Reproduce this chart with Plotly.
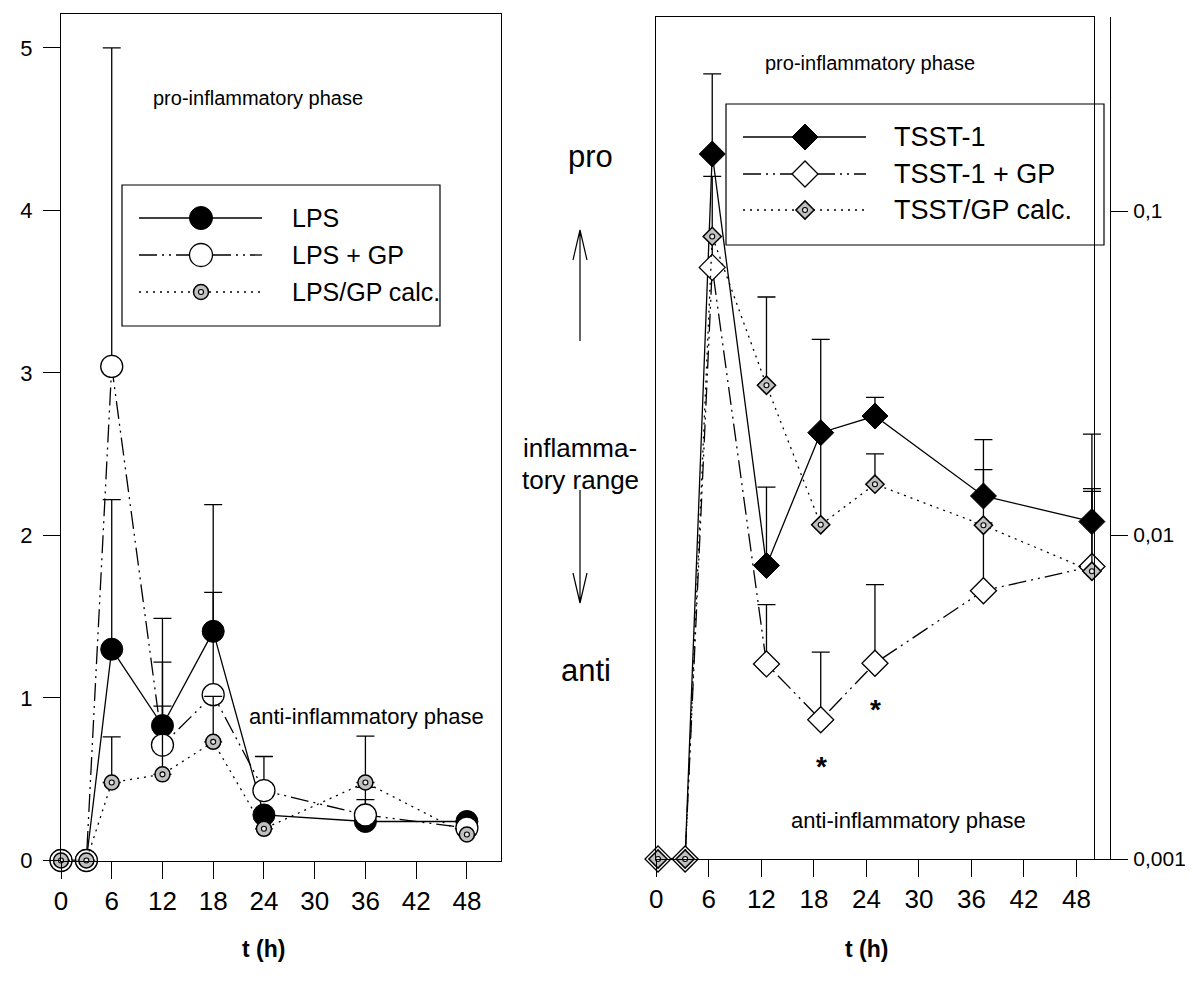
import plotly.graph_objects as go

W, H = 1193, 983
FONT = "Liberation Sans, Arial, sans-serif"

# ---------------- data ----------------
T_HOURS = [0, 3, 6, 12, 18, 24, 36, 48]
X_TICKS = [0, 6, 12, 18, 24, 30, 36, 42, 48]

# left panel (linear)
LPS = [0, 0, 1.30, 0.83, 1.41, 0.28, 0.24, 0.24]
LPS_ERR = [0, 0, 0.92, 0.66, 0.78, 0, 0.135, 0]
LPS_GP = [0, 0, 3.04, 0.71, 1.02, 0.43, 0.28, 0.20]
LPS_GP_ERR = [0, 0, 1.96, 0.51, 0.63, 0.21, 0.17, 0]
LPS_CALC = [0, 0, 0.48, 0.53, 0.73, 0.195, 0.48, 0.16]
LPS_CALC_ERR = [0, 0, 0.28, 0.42, 0.28, 0, 0.285, 0]
LEFT_Y_TICKS = [0, 1, 2, 3, 4, 5]

# right panel (log)
TSST = [0.001, 0.001, 0.150, 0.00805, 0.0207, 0.0233, 0.0132, 0.0110]
TSST_ERR = [0, 0, 0.115, 0.0060, 0.0195, 0.0033, 0.0065, 0.0095]
TSST_GP = [0.001, 0.001, 0.067, 0.0040, 0.00269, 0.00402, 0.00673, 0.0080]
TSST_GP_ERR = [0, 0, 0.061, 0.0021, 0.00166, 0.00301, 0.00417, 0.0059]
TSST_CALC = [0.001, 0.001, 0.0835, 0.0290, 0.01076, 0.01435, 0.01072, 0.00773]
TSST_CALC_ERR = [0, 0, 0, 0.0253, 0.0098, 0.00345, 0.0052, 0.0059]
RIGHT_Y_TICKS = [0.001, 0.01, 0.1]
RIGHT_Y_TEXT = ["0,001", "0,01", "0,1"]

LEFT_NAMES = ["LPS", "LPS + GP", "LPS/GP calc."]
RIGHT_NAMES = ["TSST-1", "TSST-1 + GP", "TSST/GP calc."]

# ---------------- styles ----------------
DASHDOTDOT = "18px,5px,2px,5px,2px,5px"
DOTTED = "2px,5px"
GRAY = "#c0c0c0"
LW = 1.3
ZEROS = [0] * len(T_HOURS)


def errbar(arr):
    return dict(type="data", symmetric=False, array=arr, arrayminus=ZEROS,
                color="black", thickness=LW, width=9)


fig = go.Figure()

# ---- left panel
fig.add_trace(go.Scatter(x=T_HOURS, y=LPS, mode="lines+markers", xaxis="x", yaxis="y",
                         line=dict(color="black", width=LW),
                         marker=dict(symbol="circle", size=22, color="black",
                                     line=dict(color="black", width=1)),
                         error_y=errbar(LPS_ERR), cliponaxis=False, showlegend=False))
fig.add_trace(go.Scatter(x=T_HOURS, y=LPS_GP, mode="lines+markers", xaxis="x", yaxis="y",
                         line=dict(color="black", width=LW, dash=DASHDOTDOT),
                         marker=dict(symbol="circle", size=22, color="white",
                                     line=dict(color="black", width=1.3)),
                         error_y=errbar(LPS_GP_ERR), cliponaxis=False, showlegend=False))
fig.add_trace(go.Scatter(x=T_HOURS, y=LPS_CALC, mode="lines+markers", xaxis="x", yaxis="y",
                         line=dict(color="black", width=LW, dash=DOTTED),
                         marker=dict(symbol="circle", size=15, color=GRAY,
                                     line=dict(color="black", width=1.5)),
                         error_y=errbar(LPS_CALC_ERR), cliponaxis=False, showlegend=False))
fig.add_trace(go.Scatter(x=T_HOURS, y=LPS_CALC, mode="markers", xaxis="x", yaxis="y",
                         marker=dict(symbol="circle", size=5, color="#e6e6e6",
                                     line=dict(color="black", width=1.1)),
                         cliponaxis=False, showlegend=False, hoverinfo="skip"))

# ---- right panel (data graph with the log axis on the right)
fig.add_trace(go.Scatter(x=T_HOURS, y=TSST, mode="lines+markers", xaxis="x2", yaxis="y2",
                         line=dict(color="black", width=LW),
                         marker=dict(symbol="diamond", size=20, color="black",
                                     line=dict(color="black", width=1)),
                         error_y=errbar(TSST_ERR), cliponaxis=False, showlegend=False))
fig.add_trace(go.Scatter(x=T_HOURS, y=TSST_GP, mode="lines+markers", xaxis="x2", yaxis="y2",
                         line=dict(color="black", width=LW, dash=DASHDOTDOT),
                         marker=dict(symbol="diamond", size=20, color="white",
                                     line=dict(color="black", width=1.3)),
                         error_y=errbar(TSST_GP_ERR), cliponaxis=False, showlegend=False))
fig.add_trace(go.Scatter(x=T_HOURS, y=TSST_CALC, mode="lines+markers", xaxis="x2", yaxis="y2",
                         line=dict(color="black", width=LW, dash=DOTTED),
                         marker=dict(symbol="diamond", size=14, color=GRAY,
                                     line=dict(color="black", width=1.5)),
                         error_y=errbar(TSST_CALC_ERR), cliponaxis=False, showlegend=False))
fig.add_trace(go.Scatter(x=T_HOURS, y=TSST_CALC, mode="markers", xaxis="x2", yaxis="y2",
                         marker=dict(symbol="circle", size=5, color="#e6e6e6",
                                     line=dict(color="black", width=1.1)),
                         cliponaxis=False, showlegend=False, hoverinfo="skip"))
# frame graph carrying the visible time axis of the right panel
fig.add_trace(go.Scatter(x=[None], y=[None], xaxis="x4", yaxis="y4", showlegend=False,
                         hoverinfo="skip"))

# ---------------- hand-drawn legends (on a pixel overlay axis) ----------------
LEFT_LEG = dict(box=(114, 177, 432, 318), rows=(210, 247, 284), line=(131, 254), mark=193,
                text=282, font=25)
RIGHT_LEG = dict(box=(718, 96, 1096, 237), rows=(129, 166, 202), line=(735, 858), mark=797,
                 text=884, font=27)

leg_styles = [
    (dict(color="black", width=LW), "black", 1.0),
    (dict(color="black", width=LW, dash=DASHDOTDOT), "white", 1.3),
    (dict(color="black", width=LW, dash=DOTTED), GRAY, 1.5),
]
shapes = []
annotations = []
for leg, names, sym, sizes in [(LEFT_LEG, LEFT_NAMES, "circle", (23, 23, 15)),
                               (RIGHT_LEG, RIGHT_NAMES, "diamond", (20, 20, 14))]:
    bx0, by0, bx1, by1 = leg["box"]
    shapes.append(dict(type="rect", xref="x3", yref="y3", x0=bx0, y0=by0, x1=bx1, y1=by1,
                       line=dict(color="black", width=1.2), layer="above"))
    for i, (name, yr) in enumerate(zip(names, leg["rows"])):
        lstyle, mcol, mlw = leg_styles[i]
        fig.add_trace(go.Scatter(x=list(leg["line"]), y=[yr, yr], mode="lines", xaxis="x3", yaxis="y3",
                                 line=lstyle, showlegend=False, hoverinfo="skip"))
        fig.add_trace(go.Scatter(x=[leg["mark"]], y=[yr], mode="markers", xaxis="x3", yaxis="y3",
                                 marker=dict(symbol=sym, size=sizes[i], color=mcol,
                                             line=dict(color="black", width=mlw)),
                                 showlegend=False, hoverinfo="skip"))
        if i == 2:
            fig.add_trace(go.Scatter(x=[leg["mark"]], y=[yr], mode="markers", xaxis="x3", yaxis="y3",
                                     marker=dict(symbol="circle", size=5, color="#e6e6e6",
                                                 line=dict(color="black", width=1.1)),
                                     showlegend=False, hoverinfo="skip"))
        annotations.append(dict(xref="x3", yref="y3", x=leg["text"], y=yr, text=name,
                                xanchor="left", yanchor="middle", showarrow=False,
                                font=dict(size=leg["font"], color="black", family=FONT)))

# arrows in the middle
shapes.append(dict(type="path", xref="x3", yref="y3",
                   path="M572,333 L572,222 M565,252 L572,222 L579,252",
                   line=dict(color="black", width=1.2)))
shapes.append(dict(type="path", xref="x3", yref="y3",
                   path="M572,482 L572,595 M565,565 L572,595 L579,565",
                   line=dict(color="black", width=1.2)))


def txt(x, y, s, size, bold=False):
    annotations.append(dict(xref="x3", yref="y3", x=x, y=y,
                            text=f"<b>{s}</b>" if bold else s,
                            xanchor="center", yanchor="middle", showarrow=False,
                            font=dict(size=size, color="black", family=FONT)))


txt(250, 90, "pro-inflammatory phase", 20)
txt(358, 708, "anti-inflammatory phase", 22)
txt(862, 55, "pro-inflammatory phase", 20)
txt(900, 812, "anti-inflammatory phase", 22)
txt(582, 148, "pro", 31)
txt(572, 440, "inflamma-", 26)
txt(572, 472, "tory range", 26)
txt(578, 662, "anti", 31)
txt(813, 758, "*", 28, bold=True)
txt(867, 701, "*", 28, bold=True)

# axis titles at the middle of the tick range
for xr in ("x", "x4"):
    annotations.append(dict(xref=xr, yref="y3", x=24, y=941, text="<b>t (h)</b>", showarrow=False,
                            xanchor="center", yanchor="middle",
                            font=dict(size=23, color="black", family=FONT)))

axis_common = dict(showline=True, linecolor="black", linewidth=1.2,
                   ticklen=17, tickwidth=1.2, tickcolor="black",
                   showgrid=False, zeroline=False, automargin=False)
Y_DOM_R = [1 - 851 / H, 1 - 9 / H]

fig.update_layout(
    template="none",
    width=W, height=H,
    margin=dict(l=0, r=0, t=0, b=0),
    paper_bgcolor="white", plot_bgcolor="rgba(0,0,0,0)",
    font=dict(family=FONT, color="black"),
    showlegend=False,
    # left panel
    xaxis=dict(domain=[53 / W, 492.7 / W], range=[0, 52], anchor="y", mirror=True, ticks="outside",
               tickmode="array", tickvals=X_TICKS,
               tickfont=dict(family=FONT, size=26, color="black"), **axis_common),
    yaxis=dict(domain=[1 - 852.5 / H, 1 - 5.7 / H], range=[0, 5.21], anchor="x", mirror=True,
               ticks="outside", tickmode="array", tickvals=LEFT_Y_TICKS, ticklabelstandoff=6,
               tickfont=dict(family=FONT, size=22, color="black"), **axis_common),
    # right panel: data graph
    xaxis2=dict(domain=[650 / W, 1102 / W], range=[0, 50], anchor="y2", ticks="",
                showticklabels=False, **axis_common),
    yaxis2=dict(domain=Y_DOM_R, type="log", range=[-3, -0.401], anchor="x2",
                side="right", ticks="outside", tickmode="array", tickvals=RIGHT_Y_TICKS,
                ticktext=RIGHT_Y_TEXT, ticklabelstandoff=1,
                tickfont=dict(family=FONT, size=21, color="black"), **axis_common),
    # right panel: frame graph with the time axis
    xaxis4=dict(domain=[648.3 / W, 1086 / W], range=[0, 50], anchor="y4", mirror=True,
                ticks="outside", tickmode="array", tickvals=X_TICKS,
                tickfont=dict(family=FONT, size=26, color="black"), **axis_common),
    yaxis4=dict(domain=Y_DOM_R, range=[0, 1], anchor="x4", mirror=True, ticks="",
                showticklabels=False, **axis_common),
    # pixel overlay for decorations
    xaxis3=dict(domain=[0, 1], range=[0, W], anchor="y3", visible=False, fixedrange=True),
    yaxis3=dict(domain=[0, 1], range=[H, 0], anchor="x3", visible=False, fixedrange=True),
    shapes=shapes,
    annotations=annotations,
)

fig.write_html("out.html")
